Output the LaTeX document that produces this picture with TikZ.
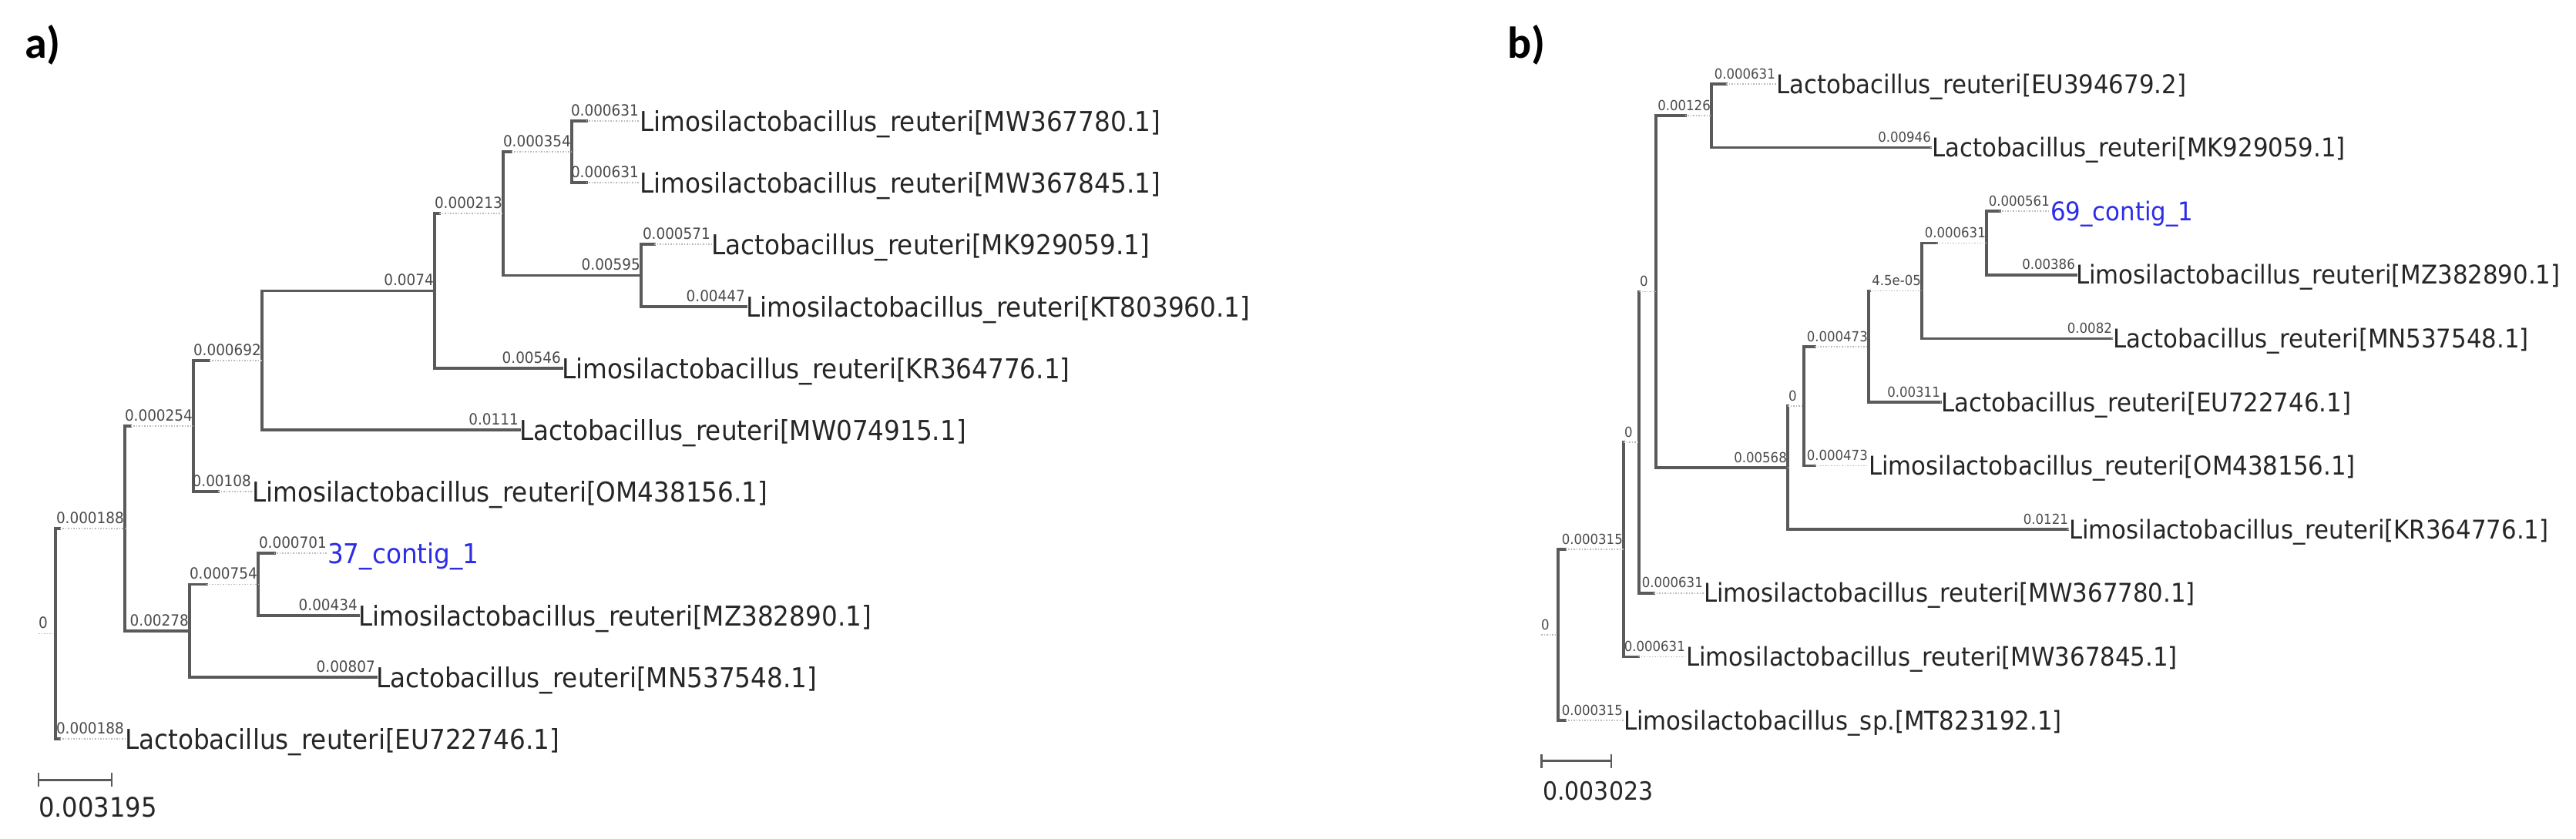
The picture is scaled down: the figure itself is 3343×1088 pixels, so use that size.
\documentclass[tikz,border=0pt]{standalone}
\usepackage{fontspec}
\newfontfamily\tf[FakeStretch=0.92]{DejaVu Sans}
\newfontfamily\pf{Carlito}
\definecolor{brc}{HTML}{5A5A5A}
\definecolor{txc}{HTML}{262626}
\definecolor{lbc}{HTML}{4A4A4A}
\definecolor{dtc}{HTML}{B8B8B8}
\definecolor{blu}{RGB}{45,45,230}
\tikzset{
 branch/.style={draw=brc, line width=3.5pt, line cap=rect},
 dots/.style={draw=dtc, line width=1.5pt, dash pattern=on 1.5pt off 2pt},
 blaba/.style={inner sep=0pt, text=lbc, font=\tf\fontsize{20}{22}\selectfont},
 blabb/.style={inner sep=0pt, text=lbc, font=\tf\fontsize{18}{20}\selectfont},
 leafa/.style={inner sep=0pt, text=txc, font=\tf\fontsize{35.5}{40}\selectfont, anchor=base west},
 leafb/.style={inner sep=0pt, text=txc, font=\tf\fontsize{33.5}{38}\selectfont, anchor=base west},
 panel/.style={inner sep=0pt, text=black, font=\pf\bfseries\fontsize{58}{60}\selectfont, anchor=base west},
}
% edge: label style, parent, child, solid length, label
\newcommand\tedge[5]{%
 \draw[branch] (#2 |- #3) -- ++(#4,0) coordinate (#3-e);
 \draw[dots] (#3-e) -- (#3);
 \node[#1, anchor=base east] (#3-l) at ([shift={(-1pt,7pt)}]#3) {#5};
}
% zero-length edge: label style, parent, child
\newcommand\zedge[3]{%
 \coordinate (#3-s) at (#2 |- #3);
 \draw[dots] (#3-s) -- (#3);
 \node[#1, anchor=base west] (#3-l) at ([shift={(1pt,7pt)}]#3-s) {0};
}
\newcommand\vedge[3]{\draw[branch] (#1 |- #2) -- (#1 |- #3);}
\begin{document}
\begin{tikzpicture}[x=1pt,y=-1pt]
\useasboundingbox[fill=white] (0,0) rectangle (3343,1088);
\node[panel] (pa) at (32,75) {a)};
\node[panel] (pb) at (1956,75) {b)};
%%%%%%%%%% panel a
\coordinate (aR) at (72,822.5);
\coordinate (aN1) at (162,686);
\coordinate (aN2) at (251,553);
\coordinate (aN3) at (340,468);
\coordinate (aN4) at (564,377.5);
\coordinate (aN6) at (653,277);
\coordinate (aN7) at (742,197);
\coordinate (aN8) at (832,357.5);
\coordinate (aN5) at (246,819);
\coordinate (aN9) at (335,758.5);
\coordinate (aL1) at (830,157);
\coordinate (aL2) at (830,237);
\coordinate (aL3) at (923,317);
\coordinate (aL4) at (968,398);
\coordinate (aL5) at (729,478);
\coordinate (aL6) at (674,558);
\coordinate (aL7) at (327,638);
\coordinate (aL8) at (425,718);
\coordinate (aL9) at (465,799);
\coordinate (aL10) at (488,879);
\coordinate (aL11) at (162,959);
\coordinate (aRs) at (50,822.5);
\draw[dots] (aRs) -- (aR);
\node[blaba, anchor=base west] (aR-l) at ([shift={(0pt,7pt)}]aRs) {0};
\vedge{aR}{aN1}{aL11}
\vedge{aN1}{aN2}{aN5}
\vedge{aN2}{aN3}{aL7}
\vedge{aN3}{aN4}{aL6}
\vedge{aN4}{aN6}{aL5}
\vedge{aN6}{aN7}{aN8}
\vedge{aN7}{aL1}{aL2}
\vedge{aN8}{aL3}{aL4}
\vedge{aN5}{aN9}{aL10}
\vedge{aN9}{aL8}{aL9}
\tedge{blaba}{aR}{aN1}{5.6}{0.000188}
\tedge{blaba}{aR}{aL11}{5.6}{0.000188}
\tedge{blaba}{aN1}{aN2}{7.6}{0.000254}
\tedge{blaba}{aN1}{aN5}{84}{0.00278}
\tedge{blaba}{aN2}{aN3}{20.6}{0.000692}
\tedge{blaba}{aN2}{aL7}{32}{0.00108}
\tedge{blaba}{aN3}{aN4}{224}{0.0074}
\tedge{blaba}{aN3}{aL6}{334}{0.0111}
\tedge{blaba}{aN4}{aN6}{6.3}{0.000213}
\tedge{blaba}{aN4}{aL5}{165}{0.00546}
\tedge{blaba}{aN6}{aN7}{10.5}{0.000354}
\tedge{blaba}{aN6}{aN8}{179}{0.00595}
\tedge{blaba}{aN7}{aL1}{18.8}{0.000631}
\tedge{blaba}{aN7}{aL2}{18.8}{0.000631}
\tedge{blaba}{aN8}{aL3}{17}{0.000571}
\tedge{blaba}{aN8}{aL4}{136}{0.00447}
\tedge{blaba}{aN5}{aN9}{22.4}{0.000754}
\tedge{blaba}{aN5}{aL10}{242}{0.00807}
\tedge{blaba}{aN9}{aL8}{20.8}{0.000701}
\tedge{blaba}{aN9}{aL9}{130}{0.00434}
\node[leafa] (aL1-t) at ([yshift=-13pt]aL1) {Limosilactobacillus\_reuteri[MW367780.1]};
\node[leafa] (aL2-t) at ([yshift=-13pt]aL2) {Limosilactobacillus\_reuteri[MW367845.1]};
\node[leafa] (aL3-t) at ([yshift=-13pt]aL3) {Lactobacillus\_reuteri[MK929059.1]};
\node[leafa] (aL4-t) at ([yshift=-13pt]aL4) {Limosilactobacillus\_reuteri[KT803960.1]};
\node[leafa] (aL5-t) at ([yshift=-13pt]aL5) {Limosilactobacillus\_reuteri[KR364776.1]};
\node[leafa] (aL6-t) at ([yshift=-13pt]aL6) {Lactobacillus\_reuteri[MW074915.1]};
\node[leafa] (aL7-t) at ([yshift=-13pt]aL7) {Limosilactobacillus\_reuteri[OM438156.1]};
\node[leafa, text=blu] (aL8-t) at ([yshift=-13pt]aL8) {37\_contig\_1};
\node[leafa] (aL9-t) at ([yshift=-13pt]aL9) {Limosilactobacillus\_reuteri[MZ382890.1]};
\node[leafa] (aL10-t) at ([yshift=-13pt]aL10) {Lactobacillus\_reuteri[MN537548.1]};
\node[leafa] (aL11-t) at ([yshift=-13pt]aL11) {Lactobacillus\_reuteri[EU722746.1]};
% scale a
\coordinate (as1) at (50,1012);
\coordinate (as2) at (145,1012);
\draw[branch, line width=3pt, line cap=butt] (as1) -- (as2);
\draw[branch, line width=2.5pt, line cap=butt] ([yshift=9pt]as1) -- ([yshift=-9pt]as1);
\draw[branch, line width=2.5pt, line cap=butt] ([yshift=9pt]as2) -- ([yshift=-9pt]as2);
\node[leafa, font=\tf\fontsize{35}{40}\selectfont, text=txc] (as-t) at (50,1060) {0.003195};
%%%%%%%%%% panel b
\coordinate (bR) at (2022,824);
\coordinate (bM1) at (2107,713);
\coordinate (bM2) at (2127,574);
\coordinate (bM3) at (2149,378.5);
\coordinate (bX) at (2221,150);
\coordinate (bN) at (2320,607);
\coordinate (bM4) at (2341,527);
\coordinate (bM5) at (2425,450);
\coordinate (bM6) at (2494,377.5);
\coordinate (bM7) at (2578,315.5);
\coordinate (bL1) at (2305,109);
\coordinate (bL2) at (2507,191.6);
\coordinate (bL3) at (2661,274.2);
\coordinate (bL4) at (2694,356.8);
\coordinate (bL5) at (2742,439.4);
\coordinate (bL6) at (2519,522);
\coordinate (bL7) at (2425,604.6);
\coordinate (bL8) at (2685,687.2);
\coordinate (bL9) at (2211,769.8);
\coordinate (bL10) at (2188,852.4);
\coordinate (bL11) at (2107,935);
\coordinate (bRs) at (2000,824);
\draw[dots] (bRs) -- (bR);
\node[blabb, anchor=base west] (bR-l) at ([shift={(0pt,7pt)}]bRs) {0};
\vedge{bR}{bM1}{bL11}
\vedge{bM1}{bM2}{bL10}
\vedge{bM2}{bM3}{bL9}
\vedge{bM3}{bX}{bN}
\vedge{bX}{bL1}{bL2}
\vedge{bN}{bM4}{bL8}
\vedge{bM4}{bM5}{bL7}
\vedge{bM5}{bM6}{bL6}
\vedge{bM6}{bM7}{bL5}
\vedge{bM7}{bL3}{bL4}
\tedge{blabb}{bR}{bM1}{9.5}{0.000315}
\tedge{blabb}{bR}{bL11}{9.5}{0.000315}
\zedge{blabb}{bM1}{bM2}
\tedge{blabb}{bM1}{bL10}{19}{0.000631}
\zedge{blabb}{bM2}{bM3}
\tedge{blabb}{bM2}{bL9}{19}{0.000631}
\tedge{blabb}{bM3}{bX}{37.8}{0.00126}
\tedge{blabb}{bM3}{bN}{170.6}{0.00568}
\tedge{blabb}{bX}{bL1}{19}{0.000631}
\tedge{blabb}{bX}{bL2}{284}{0.00946}
\zedge{blabb}{bN}{bM4}
\tedge{blabb}{bN}{bL8}{363}{0.0121}
\tedge{blabb}{bM4}{bM5}{14.2}{0.000473}
\tedge{blabb}{bM4}{bL7}{14.2}{0.000473}
\tedge{blabb}{bM5}{bM6}{1.35}{4.5e-05}
\tedge{blabb}{bM5}{bL6}{93.4}{0.00311}
\tedge{blabb}{bM6}{bM7}{19}{0.000631}
\tedge{blabb}{bM6}{bL5}{246}{0.0082}
\tedge{blabb}{bM7}{bL3}{16.9}{0.000561}
\tedge{blabb}{bM7}{bL4}{116}{0.00386}
\node[leafb] (bL1-t) at ([yshift=-12pt]bL1) {Lactobacillus\_reuteri[EU394679.2]};
\node[leafb] (bL2-t) at ([yshift=-12pt]bL2) {Lactobacillus\_reuteri[MK929059.1]};
\node[leafb, text=blu] (bL3-t) at ([yshift=-12pt]bL3) {69\_contig\_1};
\node[leafb] (bL4-t) at ([yshift=-12pt]bL4) {Limosilactobacillus\_reuteri[MZ382890.1]};
\node[leafb] (bL5-t) at ([yshift=-12pt]bL5) {Lactobacillus\_reuteri[MN537548.1]};
\node[leafb] (bL6-t) at ([yshift=-12pt]bL6) {Lactobacillus\_reuteri[EU722746.1]};
\node[leafb] (bL7-t) at ([yshift=-12pt]bL7) {Limosilactobacillus\_reuteri[OM438156.1]};
\node[leafb] (bL8-t) at ([yshift=-12pt]bL8) {Limosilactobacillus\_reuteri[KR364776.1]};
\node[leafb] (bL9-t) at ([yshift=-12pt]bL9) {Limosilactobacillus\_reuteri[MW367780.1]};
\node[leafb] (bL10-t) at ([yshift=-12pt]bL10) {Limosilactobacillus\_reuteri[MW367845.1]};
\node[leafb] (bL11-t) at ([yshift=-12pt]bL11) {Limosilactobacillus\_sp.[MT823192.1]};
% scale b
\coordinate (bs1) at (2000.5,987.5);
\coordinate (bs2) at (2091,987.5);
\draw[branch, line width=3pt, line cap=butt] (bs1) -- (bs2);
\draw[branch, line width=2.5pt, line cap=butt] ([yshift=9pt]bs1) -- ([yshift=-9pt]bs1);
\draw[branch, line width=2.5pt, line cap=butt] ([yshift=9pt]bs2) -- ([yshift=-9pt]bs2);
\node[leafb, font=\tf\fontsize{32.6}{38}\selectfont, text=txc] (bs-t) at (2002,1038) {0.003023};
\end{tikzpicture}
\end{document}
